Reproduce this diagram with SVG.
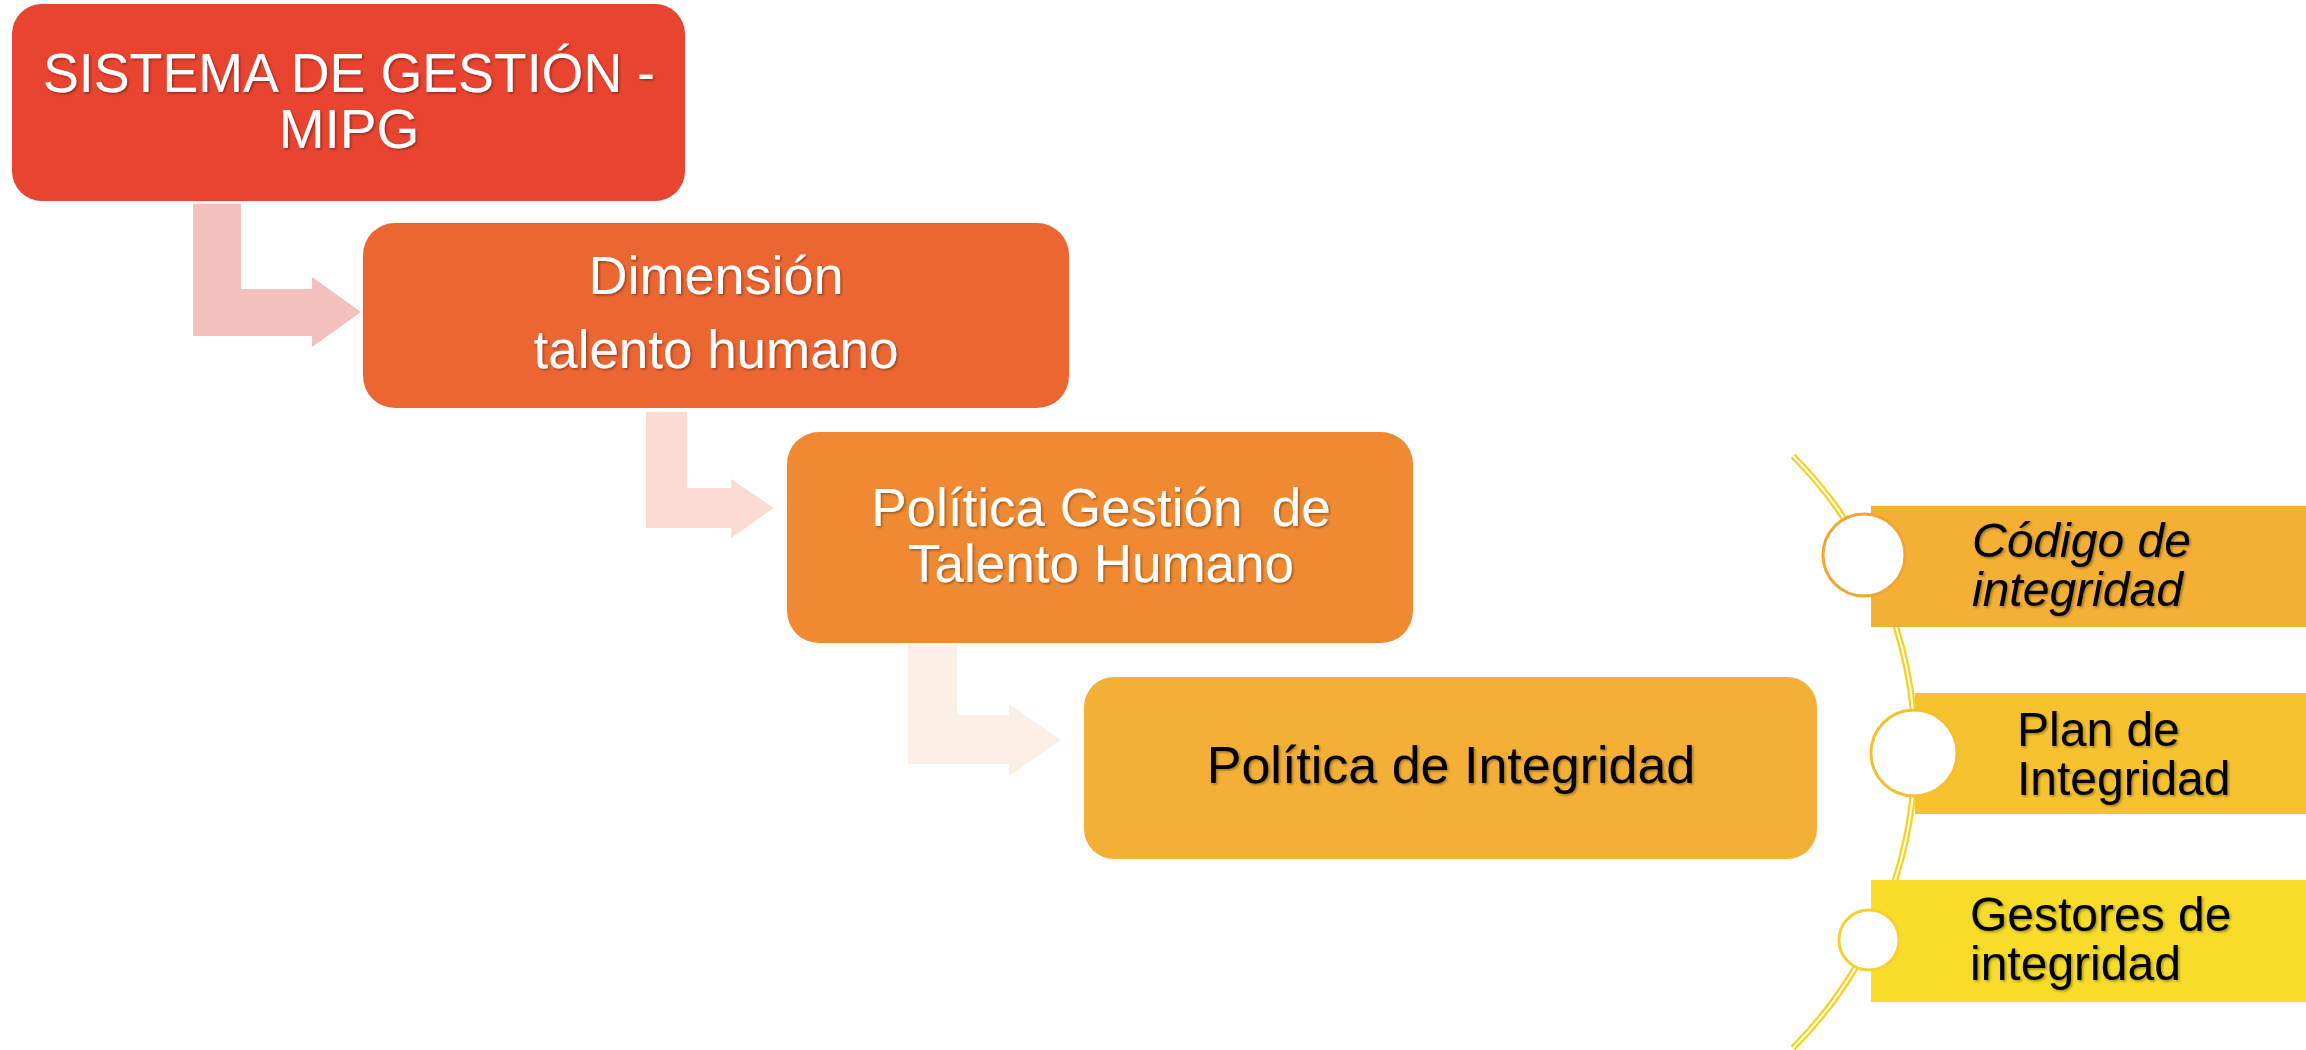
<svg xmlns="http://www.w3.org/2000/svg" width="2306" height="1050" viewBox="0 0 2306 1050">
<defs>
<filter id="ts" x="-10%" y="-30%" width="120%" height="160%">
<feDropShadow dx="1.5" dy="1.5" stdDeviation="1.2" flood-color="#000" flood-opacity="0.35"/>
</filter>
<style>
.w{font-family:"Liberation Sans",Arial,sans-serif;fill:#fff;text-anchor:middle;filter:url(#ts)}
.b{font-family:"Liberation Sans",Arial,sans-serif;fill:#000;filter:url(#ts)}
.arcY{fill:none;stroke:#F6D21E;stroke-width:6.5}
.arcW{fill:none;stroke:#fff;stroke-width:2}
.dot{fill:#fff;stroke-width:3}
</style>
</defs>
<rect width="2306" height="1050" fill="#fff"/>

<g id="connectors">
<path d="M193,204 H241 V289 H312 V277 L361,312 L312,347 V336 H193 Z" fill="#F3C1BD"/>
<path d="M646,412 H687 V488 H731 V479 L774,508 L731,538 V528 H646 Z" fill="#FADCD3"/>
<path d="M908,645 H957 V715 H1009 V704 L1061,740 L1009,776 V764 H908 Z" fill="#FCF0E6"/>
<path class="arcY" d="M1793,456 A420,420 0 0 1 1793,1048"/>
<path class="arcW" d="M1793,456 A420,420 0 0 1 1793,1048"/>
</g>

<g id="n-sistema">
<rect x="12" y="4" width="673" height="197" rx="30" fill="#E84430"/>
<text class="w" x="349" y="92" font-size="55" textLength="612" lengthAdjust="spacingAndGlyphs">SISTEMA DE GESTIÓN -</text>
<text class="w" x="349" y="148" font-size="55">MIPG</text>
</g>

<g id="n-dimension">
<rect x="363" y="223" width="706" height="185" rx="32" fill="#EC6632"/>
<text class="w" x="716" y="294" font-size="54">Dimensión</text>
<text class="w" x="716" y="368" font-size="54" textLength="365" lengthAdjust="spacingAndGlyphs">talento humano</text>
</g>

<g id="n-politica-gth">
<rect x="787" y="432" width="626" height="211" rx="32" fill="#F08A32"/>
<text class="w" x="1101" y="526" font-size="53" xml:space="preserve">Política Gestión  de</text>
<text class="w" x="1101" y="582" font-size="53">Talento Humano</text>
</g>

<g id="n-politica-integridad">
<rect x="1084" y="677" width="733" height="182" rx="30" fill="#F4B036"/>
<text class="b" x="1451" y="783" font-size="52" text-anchor="middle">Política de Integridad</text>
</g>

<g id="n-codigo">
<rect x="1871" y="506" width="435" height="121" fill="#F4AF35"/>
<circle class="dot" cx="1864" cy="555" r="41" stroke="#F0A535"/>
<text class="b" x="1972" y="557" font-size="48" font-style="italic">Código de</text>
<text class="b" x="1972" y="606" font-size="48" font-style="italic">integridad</text>
</g>

<g id="n-plan">
<rect x="1915" y="693" width="391" height="121" fill="#F7C22F"/>
<circle class="dot" cx="1914" cy="753" r="43" stroke="#F5C030"/>
<text class="b" x="2017" y="746" font-size="48">Plan de</text>
<text class="b" x="2017" y="795" font-size="48">Integridad</text>
</g>

<g id="n-gestores">
<rect x="1871" y="880" width="435" height="122" fill="#F8DC2A"/>
<circle class="dot" cx="1869" cy="940" r="30" stroke="#F5D02E"/>
<text class="b" x="1970" y="931" font-size="48">Gestores de</text>
<text class="b" x="1970" y="980" font-size="48">integridad</text>
</g>
</svg>
